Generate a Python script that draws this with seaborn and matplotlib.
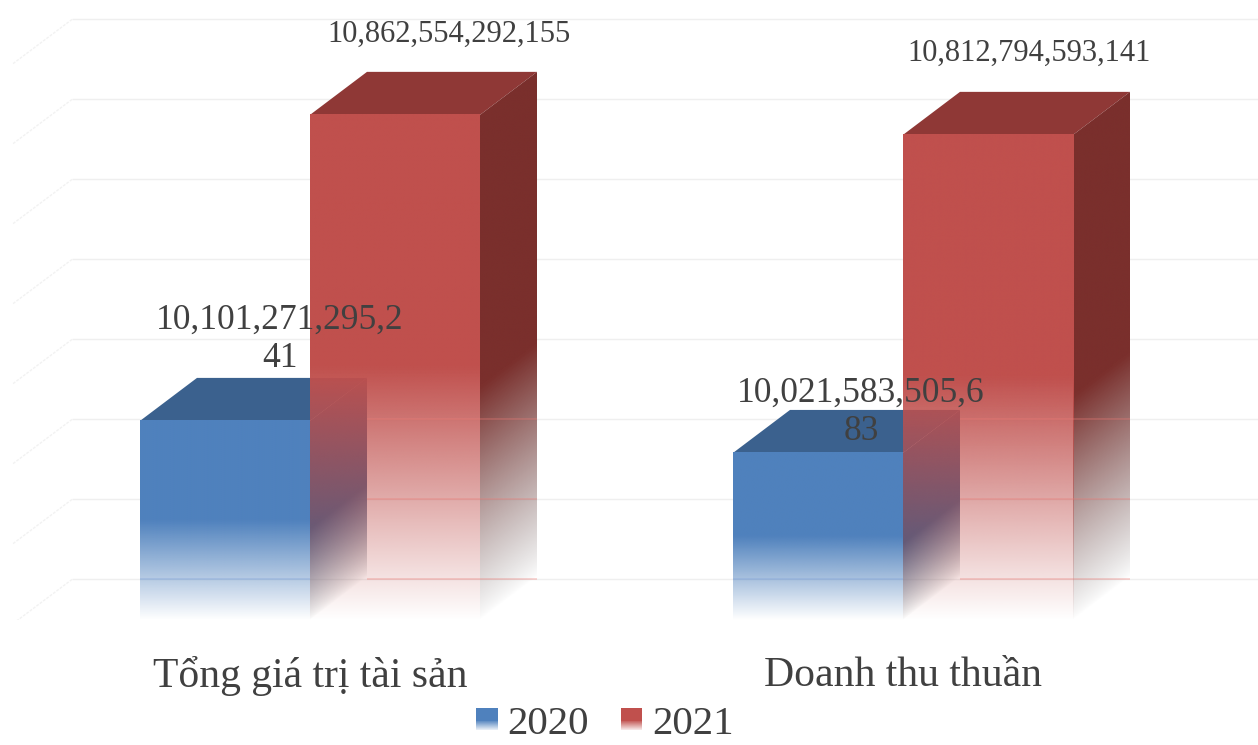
import textwrap
import numpy as np
import pandas as pd
import seaborn as sns
import matplotlib
matplotlib.use("Agg")
import matplotlib.pyplot as plt
from matplotlib.colors import to_rgb
from matplotlib.patches import Patch, Polygon

categories = ["Tổng giá trị tài sản", "Doanh thu thuần"]
years = ["2020", "2021"]
values_2020 = [10101271295241, 10021583505683]
values_2021 = [10862554292155, 10812794593141]
grid_levels = [9.6e12, 9.799e12, 9.998e12, 10.197e12, 10.396e12, 10.595e12, 10.794e12, 10.993e12]

W, H = 1258, 745
FLOOR_PX = 620
PX_PER_VALUE = 402 / 1e12
AXIS_FLOOR = 9.606e12
CAT_GAP_PX = 593
FIRST_CAT_PX = 310
BLUE, RED = "#4f81bd", "#c0504d"
BLUE_TOP, RED_TOP = "#3b618e", "#8f3836"
BLUE_SIDE, RED_SIDE = "#3a5f8c", "#7a2f2c"
GREY_END = "#8a8a8a"
TEXT = "#404040"
SERIF = "Liberation Serif"

sns.set_theme(style="white")
plt.rcParams["font.family"] = [SERIF, "DejaVu Serif"]

df = pd.DataFrame({
    "category": categories * 2,
    "year": [years[0]] * 2 + [years[1]] * 2,
    "value": values_2020 + values_2021,
})

fig = plt.figure(figsize=(W / 100, H / 100), dpi=100, facecolor="white")
ax = fig.add_axes([0, (H - FLOOR_PX) / H, 1, FLOOR_PX / H])
sns.barplot(data=df, x="category", y="value", hue="year", hue_order=years,
            palette=[BLUE, RED], width=340 / CAT_GAP_PX, gap=0, saturation=1,
            legend=False, ax=ax, errorbar=None)

xlim = (-FIRST_CAT_PX / CAT_GAP_PX, (W - FIRST_CAT_PX) / CAT_GAP_PX)
ylim = (AXIS_FLOOR, AXIS_FLOOR + FLOOR_PX / PX_PER_VALUE)
DX = 57 / CAT_GAP_PX
DY = 43 / PX_PER_VALUE


def xpx(p):
    return (p - FIRST_CAT_PX) / CAT_GAP_PX


def face_image(x0, x1, y0, y1, fn, zorder, clip=None):
    xs = np.linspace(x0, x1, 160)
    ys = np.linspace(y0, y1, 500)
    X, Y = np.meshgrid(xs, ys)
    im = ax.imshow(fn(X, Y), extent=(x0, x1, y0, y1), origin="lower", aspect="auto",
                   interpolation="bilinear", zorder=zorder)
    if clip is not None:
        clip.set_transform(ax.transData)
        im.set_clip_path(clip)
    return im


def front_fn(color, top):
    rgb = to_rgb(color)

    def fn(X, Y):
        t = (Y - AXIS_FLOOR) / (top - AXIS_FLOOR)
        a = np.clip(t / 0.5, 0, 1)
        out = np.ones(X.shape + (4,))
        out[..., :3] = rgb
        out[..., 3] = a
        return out
    return fn


def side_fn(color, x1, top):
    rgb = np.array(to_rgb(color))
    grey = np.array(to_rgb(GREY_END))

    def fn(X, Y):
        s = (X - x1) / DX
        t = (Y - s * DY - AXIS_FLOOR) / (top - AXIS_FLOOR)
        f = np.clip(t / 0.46, 0, 1)
        out = np.ones(X.shape + (4,))
        mix = (f ** 0.8)[..., None]
        out[..., :3] = rgb * mix + grey * (1 - mix)
        out[..., 3] = f ** 0.75
        return out
    return fn


# grid on the back wall and the left wall
x_back = xpx(72)
x_wall = xpx(12)
back_levels = [lv + DY for lv in grid_levels]
ax.hlines(back_levels, x_back, xlim[1], colors="#efefef", linewidth=1.0, zorder=1)
for lev in back_levels:
    ax.plot([x_back, x_wall], [lev, lev - 45 / PX_PER_VALUE], color="#f2f2f2",
            linewidth=1.0, linestyle=(0, (2, 1)), zorder=1)

styles = [(BLUE_TOP, BLUE_SIDE, BLUE), (RED_TOP, RED_SIDE, RED)]
for s_idx, cont in enumerate(ax.containers):
    top_c, side_c, front_c = styles[s_idx]
    base_z = 2 + s_idx * 3
    for bar in cont:
        x0 = bar.get_x()
        x1 = x0 + bar.get_width()
        top = bar.get_height()
        bar.set_facecolor("none")
        bar.set_edgecolor("none")
        ax.add_patch(Polygon([(x0, top), (x0 + DX, top + DY), (x1 + DX, top + DY), (x1, top)],
                             closed=True, facecolor=top_c, edgecolor="none", zorder=base_z))
        clip = Polygon([(x1, top), (x1 + DX, top + DY), (x1 + DX, AXIS_FLOOR + DY),
                        (x1, AXIS_FLOOR)], closed=True)
        face_image(x1, x1 + DX, AXIS_FLOOR, top + DY, side_fn(side_c, x1, top), base_z, clip)
        face_image(x0, x1, AXIS_FLOOR, top, front_fn(front_c, top), base_z + 1)
        mid = (top + AXIS_FLOOR) / 2
        tint = "#ef7d78" if s_idx == 1 else "#7fa3dc"
        start = x0 + DX if s_idx == 1 else x0
        end = x1 + DX if s_idx == 1 else x1
        ax.hlines([lv for lv in back_levels if lv < mid], start, end, colors=tint,
                  linewidth=1.1, alpha=0.4, zorder=base_z + 1.5)

ax.set_xlim(xlim)
ax.set_ylim(ylim)
ax.set_xlabel("")
ax.set_ylabel("")
ax.set_yticks([])
sns.despine(ax=ax, left=True, bottom=True)
ax.patch.set_alpha(0)
ax.tick_params(axis="x", length=0, pad=26, labelsize=30, labelcolor=TEXT)
ax.set_xticks([0, 1], categories)
for lab in ax.get_xticklabels():
    lab.set_fontfamily([SERIF, "DejaVu Serif"])

# data labels: text wrapped the way the source chart wraps it
label_offsets = {0: [(55, 3), (43, -38)], 1: [(54, 23), (41, 24)]}
label_sizes = {0: 25.5, 1: 22}
for s_idx, cont in enumerate(ax.containers):
    for b_idx, bar in enumerate(cont):
        txt = f"{int(bar.get_height()):,}"
        if s_idx == 0:
            txt = "\n".join(textwrap.wrap(txt, 16))
        ox, oy = label_offsets[s_idx][b_idx]
        ax.annotate(txt, (bar.get_x() + bar.get_width() / 2, bar.get_height() + DY),
                    xytext=(ox, oy), textcoords="offset pixels", ha="center", va="bottom",
                    fontsize=label_sizes[s_idx], color=TEXT, linespacing=1.22, zorder=20,
                    annotation_clip=False)

# legend
handles = [Patch(facecolor=BLUE, edgecolor="none", label=years[0]),
           Patch(facecolor=RED, edgecolor="none", label=years[1])]
leg = fig.legend(handles=handles, loc="center", bbox_to_anchor=(605 / W, (H - 724) / H),
                 ncol=2, frameon=False, fontsize=29.5, labelcolor=TEXT, handlelength=0.52,
                 handleheight=0.48, handletextpad=0.24, columnspacing=0.78, borderpad=0,
                 borderaxespad=0)
fig.canvas.draw()
inv = fig.transFigure.inverted()
for patch in leg.get_patches():
    bb = patch.get_window_extent().transformed(inv)
    lax = fig.add_axes([bb.x0, bb.y0, bb.width, bb.height * 0.4], zorder=30)
    g = np.ones((64, 2, 4))
    g[..., 3] = np.linspace(0.9, 0, 64)[:, None]
    lax.imshow(g, origin="lower", aspect="auto", extent=(0, 1, 0, 1))
    lax.axis("off")

fig.savefig("out.png", dpi=100, facecolor="white")
